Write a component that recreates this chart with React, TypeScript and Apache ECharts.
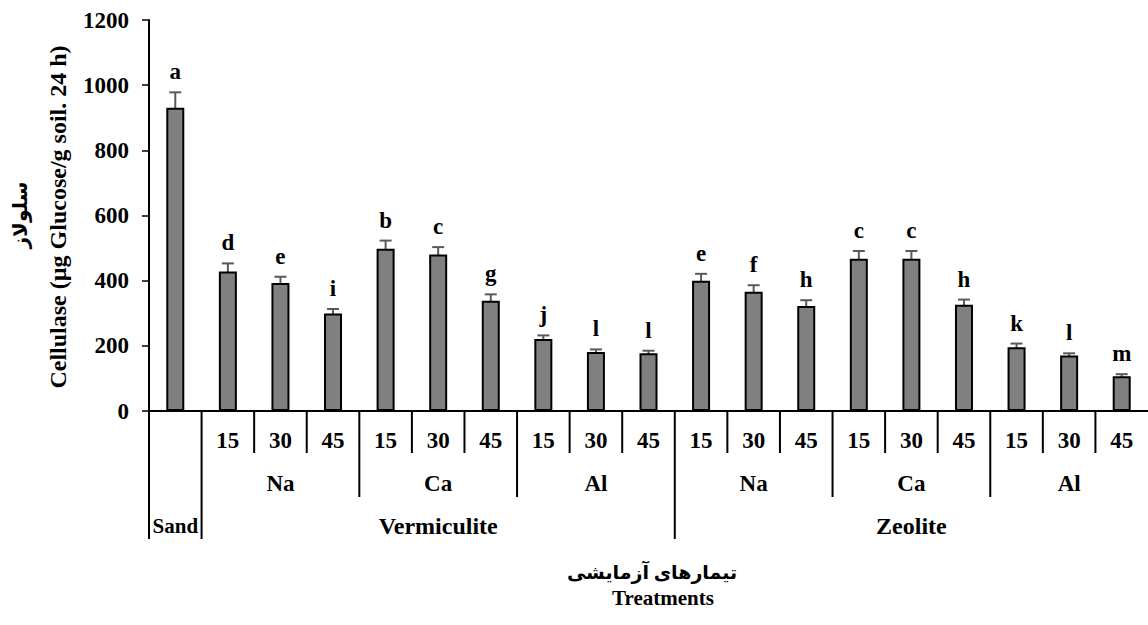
import React, { useEffect, useRef } from "react";
import * as echarts from "echarts";

const doseLabels = ["", "15", "30", "45", "15", "30", "45", "15", "30", "45", "15", "30", "45", "15", "30", "45", "15", "30", "45"];
const values = [931, 428, 393, 299, 498, 480, 338, 221, 181, 177, 400, 366, 322, 467, 467, 326, 196, 170, 107];
const errors = [47, 25, 19, 14, 25, 23, 20, 11, 8, 8, 21, 20, 18, 24, 24, 16, 11, 7, 6];
const letters = ["a", "d", "e", "i", "b", "c", "g", "j", "l", "l", "e", "f", "h", "c", "c", "h", "k", "l", "m"];
const ionLabels = ["Na", "Ca", "Al", "Na", "Ca", "Al"];
const ionStarts = [1, 4, 7, 10, 13, 16];
const ionEnds = [4, 7, 10, 13, 16, 19];
const materialLabels = ["Sand", "Vermiculite", "Zeolite"];
const materialStarts = [0, 1, 10];
const materialEnds = [1, 10, 19];
const yTicks = [0, 200, 400, 600, 800, 1000, 1200];

const FONT = '"Liberation Serif", "Times New Roman", "DejaVu Serif", "DejaVu Sans", serif';

export default function App() {
  const ref = useRef<HTMLDivElement>(null);
  useEffect(() => {
    if (!ref.current) return;
    const chart = echarts.init(ref.current, undefined, { renderer: "svg" });
    const option: any = {
      animation: false,
      backgroundColor: "#ffffff",
      grid: { left: 149, right: 0, top: 20, bottom: 214, containLabel: false },
      xAxis: {
        type: "category",
        data: doseLabels,
        axisLine: { show: true, lineStyle: { color: "#000", width: 2 } },
        axisTick: { show: false },
        axisLabel: {
          interval: 0,
          margin: 18,
          color: "#000",
          fontFamily: FONT,
          fontWeight: "bold",
          fontSize: 23,
        },
      },
      yAxis: {
        type: "value",
        min: yTicks[0],
        max: yTicks[yTicks.length - 1],
        interval: 200,
        splitLine: { show: false },
        axisLine: { show: true, lineStyle: { color: "#000", width: 2 } },
        axisTick: { show: true, length: 7, lineStyle: { color: "#000", width: 1.5 } },
        axisLabel: {
          margin: 20,
          color: "#000",
          fontFamily: FONT,
          fontWeight: "bold",
          fontSize: 23,
          formatter: (v: number) => String(v),
        },
      },
      series: [
        {
          type: "bar",
          data: values,
          barWidth: 18,
          itemStyle: { color: "#808080", borderColor: "#000", borderWidth: 2 },
        },
        {
          type: "custom",
          data: values.map((v, i) => [i, v, errors[i]]),
          renderItem: (params: any, api: any) => {
            const x = api.value(0);
            const v = api.value(1);
            const e = api.value(2);
            const top = api.coord([x, v + e]);
            const bot = api.coord([x, v - e]);
            const cap = 6;
            const st = { stroke: "#595959", lineWidth: 2 };
            return {
              type: "group",
              children: [
                { type: "line", shape: { x1: top[0], y1: top[1], x2: bot[0], y2: bot[1] }, style: st },
                { type: "line", shape: { x1: top[0] - cap, y1: top[1], x2: top[0] + cap, y2: top[1] }, style: st },
                { type: "line", shape: { x1: bot[0] - cap, y1: bot[1], x2: bot[0] + cap, y2: bot[1] }, style: st },
                {
                  type: "text",
                  x: top[0],
                  y: top[1] - 9,
                  style: {
                    text: letters[params.dataIndex],
                    textAlign: "center",
                    textVerticalAlign: "bottom",
                    fill: "#000",
                    font: `bold 23px ${FONT}`,
                  },
                },
              ],
            };
          },
        },
      ],
    };
    chart.setOption(option);

    const cx = (i: number) => chart.convertToPixel({ xAxisIndex: 0 }, i) as number;
    const w = cx(1) - cx(0);
    const bnd = (k: number) => cx(0) - w / 2 + k * w;
    const y0 = chart.convertToPixel({ yAxisIndex: 0 }, 0) as number;

    const lineStyle = { stroke: "#000", lineWidth: 2 };
    const graphics: any[] = [];
    const ionB = new Set([4, 7, 13, 16]);
    const matB = new Set(materialStarts);
    for (let k = 0; k < 19; k++) {
      let len = 42;
      if (matB.has(k)) len = 128;
      else if (ionB.has(k)) len = 86;
      graphics.push({
        type: "line",
        shape: { x1: bnd(k), y1: y0, x2: bnd(k), y2: y0 + len },
        style: lineStyle,
      });
    }
    ionLabels.forEach((lab, i) => {
      graphics.push({
        type: "text",
        x: (bnd(ionStarts[i]) + bnd(ionEnds[i])) / 2,
        y: y0 + 72,
        style: {
          text: lab,
          textAlign: "center",
          textVerticalAlign: "middle",
          fill: "#000",
          font: `bold 23px ${FONT}`,
        },
      });
    });
    materialLabels.forEach((lab, i) => {
      graphics.push({
        type: "text",
        x: (bnd(materialStarts[i]) + bnd(materialEnds[i])) / 2,
        y: y0 + 115,
        style: {
          text: lab,
          textAlign: "center",
          textVerticalAlign: "middle",
          fill: "#000",
          font: `bold ${i === 0 ? 21 : 24}px ${FONT}`,
        },
      });
    });
    graphics.push({
      type: "text",
      x: 652,
      y: 572,
      style: { text: "تیمارهای آزمایشی", textAlign: "center", textVerticalAlign: "middle", fill: "#000", font: `bold 19px ${FONT}` },
    });
    graphics.push({
      type: "text",
      x: 663,
      y: 598,
      style: { text: "Treatments", textAlign: "center", textVerticalAlign: "middle", fill: "#000", font: `bold 21px ${FONT}` },
    });
    graphics.push({
      type: "text",
      x: 20,
      y: 215,
      rotation: Math.PI / 2,
      style: { text: "سلولاز", textAlign: "center", textVerticalAlign: "middle", fill: "#000", font: `bold 20px ${FONT}` },
    });
    graphics.push({
      type: "text",
      x: 58,
      y: 217,
      rotation: Math.PI / 2,
      style: {
        text: "Cellulase (µg Glucose/g soil. 24 h)",
        textAlign: "center",
        textVerticalAlign: "middle",
        fill: "#000",
        font: `bold 24px ${FONT}`,
      },
    });
    chart.setOption({ graphic: graphics });

    return () => chart.dispose();
  }, []);
  return <div ref={ref} style={{ width: 1148, height: 625, position: "absolute", left: 0, top: 0 }} />;
}
